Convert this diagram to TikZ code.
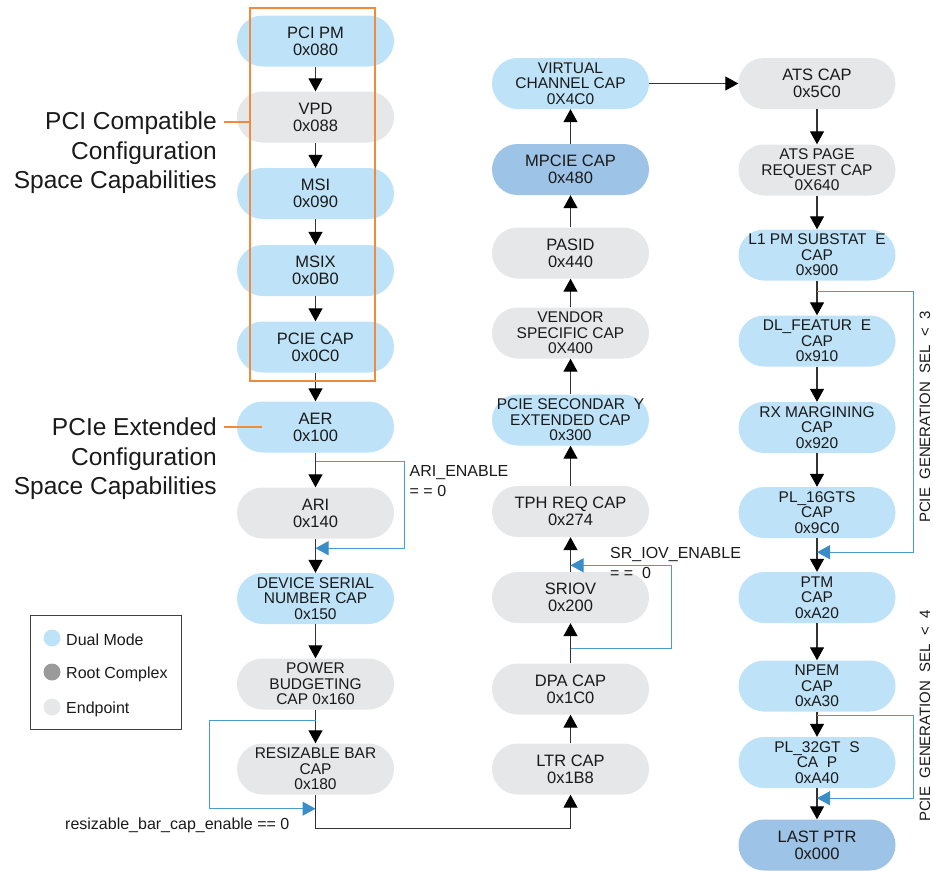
\documentclass[tikz,border=0pt]{standalone}
\usepackage{fontspec}
\setmainfont{Liberation Sans}
\usetikzlibrary{arrows.meta,calc}
\definecolor{dualc}{HTML}{BEE3F8}
\definecolor{endpc}{HTML}{E6E7E8}
\definecolor{rootc}{HTML}{9A9A9A}
\definecolor{lastc}{HTML}{9DC3E6}
\definecolor{orng}{HTML}{F08A3C}
\definecolor{bypc}{HTML}{4A9BD1}
\definecolor{byptip}{HTML}{3B8DC8}
\definecolor{txtc}{HTML}{1A1A1A}
\tikzset{
  capbox/.style={rectangle, rounded corners=25.5pt, minimum width=157pt, minimum height=51pt,
    inner sep=0pt, align=center, text=txtc, font=\fontsize{15.5}{15.5}\selectfont},
  captwo/.style={capbox, font=\fontsize{16.5}{17}\selectfont},
  dualm/.style={fill=dualc},
  endpt/.style={fill=endpc},
  lastm/.style={fill=lastc},
  flow/.style={draw=black!80, line width=1.2pt, -{Triangle[width=14pt,length=13pt,color=black,fill=black]}},
  bypass/.style={draw=bypc, line width=1pt, -{Triangle[width=14pt,length=13pt,color=byptip,fill=byptip]}},
  cond/.style={font=\fontsize{16}{20}\selectfont, align=left, inner sep=0pt, text=txtc},
  bigl/.style={font=\fontsize{24.5}{29.5}\selectfont, align=right, inner sep=0pt, text=txtc},
  orl/.style={draw=orng, line width=1.5pt},
  lgdtext/.style={font=\fontsize{16}{18}\selectfont, anchor=west, inner sep=0pt, text=txtc},
  lgddot/.style={circle, minimum size=17pt, inner sep=0pt},
  gen/.style={font=\fontsize{15}{17}\selectfont, rotate=90, inner sep=0pt, text=txtc}
}
\begin{document}
\begin{tikzpicture}[x=1pt,y=-1pt]
\useasboundingbox (0,0) rectangle (933,870);

% column 1
\node[captwo,dualm] (pcipm) at (315.5,41) {PCI PM\\0x080};
\node[captwo,endpt] (vpd) at (315.5,117) {VPD\\0x088};
\node[captwo,dualm] (msi) at (315.5,193.5) {MSI\\0x090};
\node[captwo,dualm] (msix) at (315.5,270.5) {MSIX\\0x0B0};
\node[captwo,dualm] (pciecap) at (315.5,347) {PCIE CAP\\0x0C0};
\node[captwo,dualm] (aer) at (315.5,427) {AER\\0x100};
\node[captwo,endpt] (ari) at (315.5,513) {ARI\\0x140};
\node[capbox,dualm] (dsn) at (315.5,598.5) {DEVICE SERIAL\\NUMBER CAP\\0x150};
\node[capbox,endpt] (pwr) at (315.5,684) {POWER\\BUDGETING\\CAP 0x160};
\node[capbox,endpt] (rbar) at (315.5,769) {RESIZABLE BAR\\CAP\\0x180};

% column 2
\node[capbox,dualm] (vc) at (570.5,83.5) {VIRTUAL\\CHANNEL CAP\\0X4C0};
\node[captwo,lastm] (mpcie) at (570.5,169.5) {MPCIE CAP\\0x480};
\node[captwo,endpt] (pasid) at (570.5,253) {PASID\\0x440};
\node[capbox,endpt] (vend) at (570.5,333) {VENDOR\\SPECIFIC CAP\\0X400};
\node[capbox,dualm] (psec) at (570.5,420) {PCIE SECONDAR\ \ Y\\EXTENDED CAP\\0x300};
\node[captwo,endpt] (tph) at (570.5,511.5) {TPH REQ CAP\\0x274};
\node[captwo,endpt] (sriov) at (570.5,597.5) {SRIOV\\0x200};
\node[captwo,endpt] (dpa) at (570.5,689) {DPA CAP\\0x1C0};
\node[captwo,endpt] (ltr) at (570.5,769) {LTR CAP\\0x1B8};

% column 3
\node[captwo,endpt] (ats) at (817,83.5) {ATS CAP\\0x5C0};
\node[capbox,endpt] (atsp) at (817,170) {ATS PAGE\\REQUEST CAP\\0X640};
\node[capbox,dualm] (lone) at (817,255) {L1 PM SUBSTAT\ \ E\\CAP\\0x900};
\node[capbox,dualm] (dlf) at (817,341) {DL\_FEATUR\ \ E\\CAP\\0x910};
\node[capbox,dualm] (rxm) at (817,427.5) {RX MARGINING\\CAP\\0x920};
\node[capbox,dualm] (plsix) at (817,512.5) {PL\_16GTS\\CAP\\0x9C0};
\node[capbox,dualm] (ptm) at (817,597.5) {PTM\\CAP\\0xA20};
\node[capbox,dualm] (npem) at (817,686) {NPEM\\CAP\\0xA30};
\node[capbox,dualm] (plthr) at (817,762.5) {PL\_32GT\ \ S\\CA\ \ P\\0xA40};
\node[captwo,lastm] (lastp) at (817,845) {LAST PTR\\0x000};

% main flow column 1
\draw[flow] (pcipm) -- (vpd);
\draw[flow] (vpd) -- (msi);
\draw[flow] (msi) -- (msix);
\draw[flow] (msix) -- (pciecap);
\draw[flow] (pciecap) -- (aer);
\draw[flow] (aer) -- (ari);
\draw[flow] (ari) -- (dsn);
\draw[flow] (dsn) -- (pwr);
\draw[flow] (pwr) -- (rbar);
\draw[flow] (rbar.south) -- ++(0,33.5) -| (ltr.south);

% column 2 upward
\draw[flow] (ltr) -- (dpa);
\draw[flow] (dpa) -- (sriov);
\draw[flow] (sriov) -- (tph);
\draw[flow] (tph) -- (psec);
\draw[flow] (psec) -- (vend);
\draw[flow] (vend) -- (pasid);
\draw[flow] (pasid) -- (mpcie);
\draw[flow] (mpcie) -- (vc);
\draw[flow] (vc) -- (ats);

% column 3 downward
\draw[flow] (ats) -- (atsp);
\draw[flow] (atsp) -- (lone);
\draw[flow] (lone) -- (dlf);
\draw[flow] (dlf) -- (rxm);
\draw[flow] (rxm) -- (plsix);
\draw[flow] (plsix) -- (ptm);
\draw[flow] (ptm) -- (npem);
\draw[flow] (npem) -- (plthr);
\draw[flow] (plthr) -- (lastp);

% bypasses
\coordinate (aerout) at ($(aer.south)+(0,9)$);
\coordinate (ariin) at ($(ari.south)+(0,9.5)$);
\draw[bypass] (aerout) -- ++(88.5,0) |- (ariin);
\node[cond, anchor=north west] (arilbl) at (409.5,465.5) {ARI\_ENABLE\\= = 0};

\coordinate (pwrout) at ($(pwr.south)+(0,11)$);
\coordinate (rbarin) at ($(rbar.south)+(0,14)$);
\draw[bypass] (pwrout) -- ++(-106.5,0) |- (rbarin);
\node[cond, anchor=base west] (rbarlbl) at (65,829) {resizable\_bar\_cap\_enable == 0};

\coordinate (dpaout) at ($(dpa.north)+(0,-15)$);
\coordinate (sriovin) at ($(sriov.north)+(0,-6.5)$);
\draw[bypass] (dpaout) -- ++(100.5,0) |- (sriovin);
\node[cond, anchor=north west] (srlbl) at (610,547.5) {SR\_IOV\_ENABLE\\= =\ \ 0};

\coordinate (loneout) at ($(lone.south)+(0,10.5)$);
\coordinate (plsixin) at ($(plsix.south)+(0,14)$);
\draw[bypass] (loneout) -- ++(96,0) |- (plsixin);
\node[gen] (genthree) at (925,417) {PCIE\ \ GENERATION\ \ SEL\ \ <\ \ 3};

\coordinate (npemout) at ($(npem.south)+(0,3.5)$);
\coordinate (plthrin) at ($(plthr.south)+(0,10)$);
\draw[bypass] (npemout) -- ++(96,0) |- (plthrin);
\node[gen] (genfour) at (925,716) {PCIE\ \ GENERATION\ \ SEL\ \ <\ \ 4};

% orange group box and labels
\node[orl, minimum width=125pt, minimum height=373pt, inner sep=0pt, anchor=north west] (pcibox) at (249,7) {};
\node[bigl, anchor=north east] (pcilbl) at (217,112) {PCI Compatible\\Configuration\\Space Capabilities};
\node[bigl, anchor=north east] (pcielbl) at (217,418) {PCIe Extended\\Configuration\\Space Capabilities};
\coordinate (pcitick) at (224,122);
\draw[orl] (pcitick) -- (pcitick -| pcibox.west);
\coordinate (pcietick) at (224,427);
\coordinate (pcietickend) at ($(aer.west)+(25.5,0)$);
\draw[orl] (pcietick) -- (pcietickend);

% legend
\node[draw=black!75, line width=1pt, minimum width=151pt, minimum height=114pt, inner sep=0pt, anchor=north west] (legend) at (30,615) {};
\node[lgddot, fill=dualc] (ldual) at (52,638) {};
\node[lgddot, fill=rootc] (lroot) at (52,672) {};
\node[lgddot, fill=endpc] (lend) at (52,707) {};
\node[lgdtext] (tdual) at (66,640) {Dual Mode};
\node[lgdtext] (troot) at (66,674) {Root Complex};
\node[lgdtext] (tend) at (66,709) {Endpoint};
\end{tikzpicture}
\end{document}
